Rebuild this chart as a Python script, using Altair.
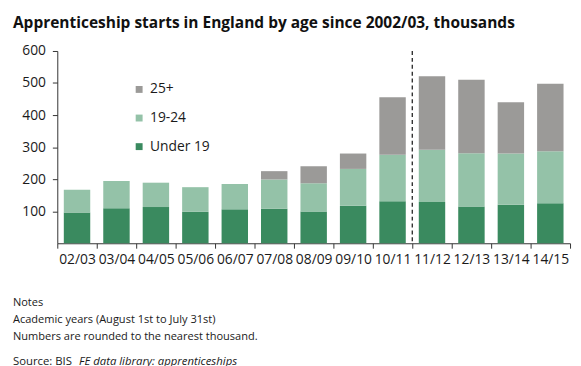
import altair as alt
import pandas as pd

years = ["02/03", "03/04", "04/05", "05/06", "06/07", "07/08", "08/09",
         "09/10", "10/11", "11/12", "12/13", "13/14", "14/15"]
under19 = [96, 109, 113, 98, 106, 108, 99, 117, 131, 129, 115, 120, 125]
age19_24 = [71, 85, 76, 77, 79, 91, 88, 115, 145, 163, 166, 160, 162]
age25plus = [0, 0, 0, 0, 0, 26, 53, 48, 180, 229, 229, 160, 211]
y_ticks = [100, 200, 300, 400, 500, 600]

groups = ["25+", "19-24", "Under 19"]
colors = ["#9b9a98", "#94c2a8", "#3a8a5f"]
stack_order = {"Under 19": 0, "19-24": 1, "25+": 2}

rows = []
for i, y in enumerate(years):
    for g, vals in (("Under 19", under19), ("19-24", age19_24), ("25+", age25plus)):
        rows.append({"year": y, "group": g, "value": vals[i], "ord": stack_order[g]})
df = pd.DataFrame(rows)

FONT = "Open Sans"

x_scale = alt.Scale(domain=years, paddingInner=0, paddingOuter=0)
y_scale = alt.Scale(domain=[0, 600], nice=False)

bars = alt.Chart(df).mark_bar(width=alt.RelativeBandSize(0.67)).encode(
    x=alt.X("year:N", scale=x_scale, sort=years,
            axis=alt.Axis(title=None, labelAngle=0, tickBand="extent",
                          labelPadding=5)),
    y=alt.Y("value:Q", stack="zero", scale=y_scale,
            axis=alt.Axis(title=None, values=y_ticks, grid=False,
                          labelPadding=7)),
    color=alt.Color("group:N", scale=alt.Scale(domain=groups, range=colors),
                    legend=alt.Legend(title=None, orient="none", legendX=76,
                                      legendY=32, symbolType="square",
                                      symbolSize=49, symbolStrokeWidth=0,
                                      labelFontSize=14, labelFont=FONT,
                                      labelColor="#1a1a1a", rowPadding=15,
                                      labelOffset=4, padding=0)),
    order=alt.Order("ord:Q", sort="ascending"),
)

divider = alt.Chart(pd.DataFrame({"year": ["11/12"], "value": [600], "bottom": [0]})).mark_rule(
    color="#222", strokeDash=[4, 3], strokeWidth=1.3
).encode(
    x=alt.X("year:N", scale=x_scale, sort=years, bandPosition=0, axis=None),
    y=alt.Y("value:Q", scale=y_scale, axis=None),
    y2="bottom:Q",
)

FOOT = "#1a1a1a"
def note(text, ypix, xpix=-45, size=11.2, style="normal"):
    return alt.Chart(pd.DataFrame({"t": [text]})).mark_text(
        align="left", baseline="middle", font=FONT, fontSize=size,
        fontStyle=style, color=FOOT
    ).encode(x=alt.value(xpix), y=alt.value(ypix), text="t:N")

notes_layers = [
    note("Notes", 256),
    note("Academic years (August 1st to July 31st)", 273),
    note("Numbers are rounded to the nearest thousand.", 290),
    note("Source: BIS", 315, size=11.5),
    note("FE data library: apprenticeships", 315, xpix=22, size=11.5, style="italic"),
]

chart = alt.layer(bars, divider, *notes_layers).resolve_axis(
    x="independent", y="independent"
).properties(
    width=520, height=195,
    title=alt.TitleParams("Apprenticeship starts in England by age since 2002/03, thousands",
                          anchor="start", frame="group", font=FONT, fontSize=15.7,
                          fontWeight="bold", color="#111", dx=-45, offset=13),
    autosize=alt.AutoSizeParams(type="none"),
    padding={"left": 50, "top": 41, "right": 3, "bottom": 130},
).configure_view(stroke=None).configure_axis(
    domain=True, ticks=True, domainWidth=1, tickWidth=1,
    domainColor="#333", tickColor="#333", tickSize=5,
    labelFont=FONT, labelFontSize=14, labelColor="#1a1a1a",
    labelOverlap=False, labelBound=False, labelFlush=False,
)

chart.save("out.html", embed_options={"renderer": "svg", "actions": False})
